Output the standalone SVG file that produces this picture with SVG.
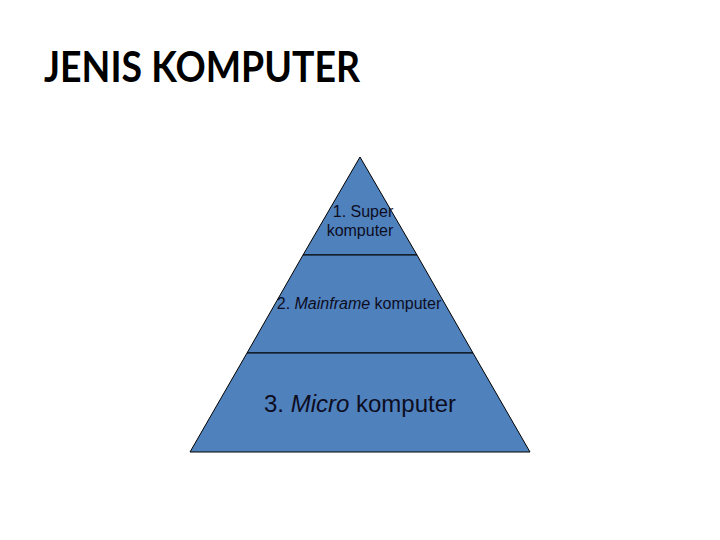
<svg xmlns="http://www.w3.org/2000/svg" width="720" height="540" viewBox="0 0 720 540">
<style>
.lvl{fill:#4F81BD;stroke:#000;stroke-width:1}
.t{font-family:"Liberation Sans",Arial,sans-serif;fill:#0d0d1f;text-anchor:middle}
.title{font-family:"Lato","Open Sans","Liberation Sans",sans-serif;font-weight:bold;font-size:42px;fill:#000}
</style>
<rect width="720" height="540" fill="#fff"/>
<text class="title" x="44" y="82" textLength="316" lengthAdjust="spacingAndGlyphs">JENIS KOMPUTER</text>
<g id="level1">
<polygon class="lvl" points="360,157 417,255 303,255"/>
<text class="t" x="363" y="217" font-size="16">1. Super</text>
<text class="t" x="360" y="236" font-size="16">komputer</text>
</g>
<g id="level2">
<polygon class="lvl" points="303,255 417,255 473,353 247,353"/>
<text class="t" x="359" y="309" font-size="16">2. <tspan font-style="italic">Mainframe</tspan> komputer</text>
</g>
<g id="level3">
<polygon class="lvl" points="247,353 473,353 530,452 190,452"/>
<text class="t" x="360" y="412" font-size="24">3. <tspan font-style="italic">Micro</tspan> komputer</text>
</g>
</svg>
